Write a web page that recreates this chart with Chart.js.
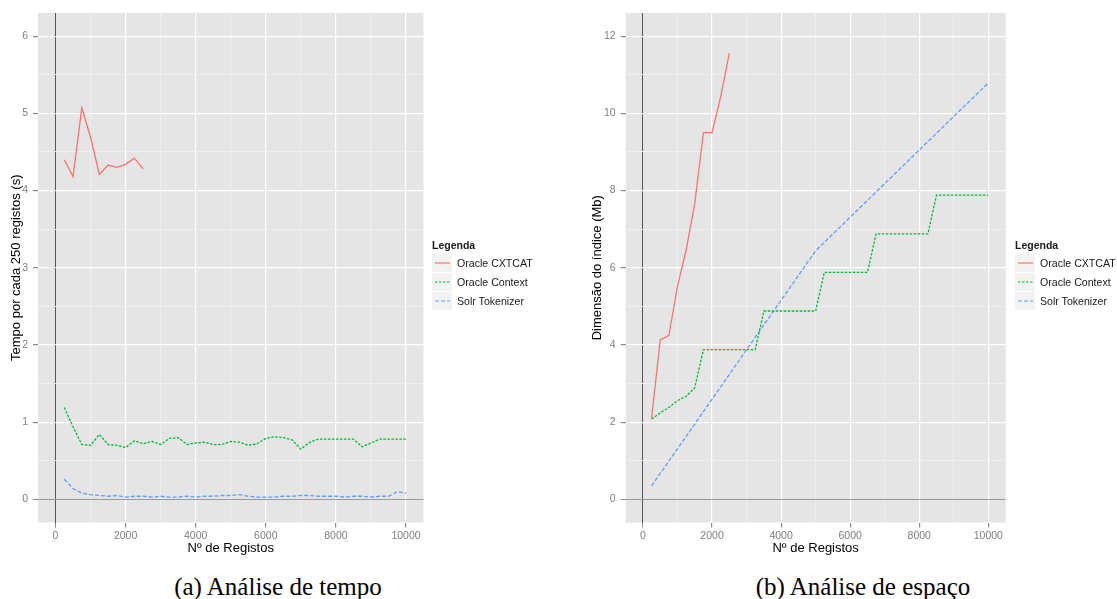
<!DOCTYPE html>
<html>
<head>
<meta charset="utf-8">
<script src="https://cdn.jsdelivr.net/npm/chart.js@4/dist/chart.umd.min.js"></script>
<style>
    body { margin: 0; background: #fff; }
    #wrap { position: relative; width: 1117px; height: 599px; overflow: hidden; }
    canvas { position: absolute; top: 0; }
    .legend { position: absolute; top: 237px; white-space: nowrap; font-family: "Liberation Sans", Arial, sans-serif; font-size: 10.6px; color: #1a1a1a; }
    .lg-title { font-weight: bold; font-size: 10.5px; line-height: 16px; }
    .lg-row { display: flex; align-items: center; height: 19px; }
    .lg-key { width: 20px; height: 18px; background: #F2F2F2; margin-right: 5px; flex: none; }
    .lg-key svg { display: block; }
    .caption { position: absolute; top: 574px; width: 400px; text-align: center; font-family: "Liberation Serif", "Times New Roman", serif; font-size: 25px; line-height: 25px; color: #000; }
</style>
</head>
<body>
<div id="wrap">
    <canvas id="chart-tempo" width="560" height="560" style="left:0"></canvas>
    <canvas id="chart-espaco" width="537" height="560" style="left:580px"></canvas>
    <div class="legend" id="legend-tempo" style="left:432px"></div>
    <div class="legend" id="legend-espaco" style="left:1015px"></div>
    <div class="caption" style="left:78px">(a) Análise de tempo</div>
    <div class="caption" style="left:663px">(b) Análise de espaço</div>
</div>
<script>
const COLORS = {
    cxtcat: '#F8766D',
    context: '#00BA38',
    solr: '#619CFF',
};
const LABELS = {
    cxtcat: 'Oracle CXTCAT',
    context: 'Oracle Context',
    solr: 'Solr Tokenizer',
};

const REGISTOS = [250, 500, 750, 1000, 1250, 1500, 1750, 2000, 2250, 2500,
    2750, 3000, 3250, 3500, 3750, 4000, 4250, 4500, 4750, 5000,
    5250, 5500, 5750, 6000, 6250, 6500, 6750, 7000, 7250, 7500,
    7750, 8000, 8250, 8500, 8750, 9000, 9250, 9500, 9750, 10000];
const REGISTOS_CXTCAT = [250, 500, 750, 1000, 1250, 1500, 1750, 2000, 2250, 2500];
const REGISTOS_SOLR_ESPACO = [250, 5000, 10000];

// (a) tempo por cada 250 registos (s)
const TEMPO_CXTCAT = [4.40, 4.18, 5.07, 4.69, 4.21, 4.33, 4.30, 4.34, 4.42, 4.28];
const TEMPO_CONTEXT = [1.19, 0.94, 0.71, 0.70, 0.84, 0.71, 0.70, 0.67, 0.76, 0.72,
    0.75, 0.71, 0.79, 0.80, 0.71, 0.73, 0.74, 0.71, 0.71, 0.75,
    0.74, 0.70, 0.72, 0.79, 0.81, 0.80, 0.77, 0.65, 0.74, 0.78,
    0.78, 0.78, 0.78, 0.78, 0.68, 0.73, 0.78, 0.78, 0.78, 0.78];
const TEMPO_SOLR = [0.26, 0.14, 0.08, 0.06, 0.05, 0.04, 0.05, 0.03, 0.04, 0.04,
    0.03, 0.04, 0.03, 0.03, 0.04, 0.03, 0.04, 0.04, 0.05, 0.05,
    0.06, 0.04, 0.03, 0.03, 0.03, 0.04, 0.04, 0.05, 0.05, 0.04,
    0.04, 0.04, 0.03, 0.04, 0.04, 0.03, 0.04, 0.04, 0.10, 0.08];

// (b) dimensao do indice (Mb)
const ESPACO_CXTCAT = [2.10, 4.13, 4.25, 5.52, 6.46, 7.67, 9.50, 9.50, 10.43, 11.56];
const ESPACO_CONTEXT = [2.08, 2.24, 2.38, 2.56, 2.67, 2.89, 3.88, 3.88, 3.88, 3.88,
    3.88, 3.88, 3.88, 4.88, 4.88, 4.88, 4.88, 4.88, 4.88, 4.88,
    5.88, 5.88, 5.88, 5.88, 5.88, 5.88, 6.88, 6.88, 6.88, 6.88,
    6.88, 6.88, 6.88, 7.88, 7.88, 7.88, 7.88, 7.88, 7.88, 7.88];
const ESPACO_SOLR = [0.35, 6.44, 10.79];

const X_MAJOR = [0, 2000, 4000, 6000, 8000, 10000];
const X_MINOR = [1000, 3000, 5000, 7000, 9000];
const Y_TEMPO_MAJOR = [0, 1, 2, 3, 4, 5, 6];
const Y_TEMPO_MINOR = [0.5, 1.5, 2.5, 3.5, 4.5, 5.5];
const Y_ESPACO_MAJOR = [0, 2, 4, 6, 8, 10, 12];
const Y_ESPACO_MINOR = [1, 3, 5, 7, 9, 11];

Chart.defaults.font.family = '"Liberation Sans", Arial, sans-serif';

const panelBg = {
    id: 'panelBg',
    beforeDraw(chart) {
        const { ctx, chartArea: a } = chart;
        ctx.save();
        ctx.fillStyle = '#E5E5E5';
        ctx.fillRect(a.left, a.top, a.right - a.left, a.bottom - a.top);
        ctx.restore();
    },
};

function points(xs, ys) {
    return xs.map((x, i) => ({ x, y: ys[i] }));
}

function series(key, xs, ys) {
    const dash = { cxtcat: [], context: [2.5, 1.5], solr: [4, 2] };
    return {
        label: LABELS[key],
        data: points(xs, ys),
        borderColor: COLORS[key],
        backgroundColor: 'transparent',
        borderWidth: 1.3,
        borderDash: dash[key],
        pointRadius: 0,
        tension: 0,
    };
}

function axis(major, minor, min, max, zeroColor, title, opts) {
    const all = [...major, ...minor].sort((a, b) => a - b);
    return {
        type: 'linear',
        min, max,
        afterBuildTicks: s => { s.ticks = all.map(v => ({ value: v })); },
        afterFit: s => { if (opts.width) s.width = opts.width; if (opts.height) s.height = opts.height; },
        ticks: {
            autoSkip: false,
            maxRotation: 0,
            color: '#7F7F7F',
            font: { size: 10.5 },
            padding: opts.tickPad,
            callback: v => major.includes(v) ? String(v) : '',
        },
        grid: {
            color: c => c.tick && c.tick.value === 0 ? zeroColor : (major.includes(c.tick && c.tick.value) ? '#FFFFFF' : '#EFEFEF'),
            lineWidth: c => c.tick && c.tick.value === 0 ? 1 : (major.includes(c.tick && c.tick.value) ? 1.2 : 1),
            tickColor: c => major.includes(c.tick && c.tick.value) ? '#8A8A8A' : 'rgba(0,0,0,0)',
            tickLength: 5,
            drawTicks: true,
        },
        border: { display: false },
        title: {
            display: true,
            text: title,
            color: '#000',
            font: { size: 13 },
            padding: opts.titlePad,
        },
    };
}

function makeChart(id, datasets, yAxis, padRight) {
    return new Chart(document.getElementById(id), {
        type: 'line',
        data: { datasets },
        options: {
            responsive: false,
            animation: false,
            layout: { padding: { left: 0, top: 13, right: padRight, bottom: 0 } },
            plugins: { legend: { display: false }, tooltip: { enabled: false } },
            scales: {
                x: axis(X_MAJOR, X_MINOR, -500, 10500, '#555555', 'Nº de Registos',
                    { height: 37.5, tickPad: 2, titlePad: { top: 0, bottom: 4 } }),
                y: yAxis,
            },
        },
        plugins: [panelBg],
    });
}

function buildLegend(chart, el) {
    el.innerHTML = '<div class="lg-title">Legenda</div>' + chart.data.datasets.map(ds => `
        <div class="lg-row">
            <span class="lg-key"><svg width="20" height="18"><line x1="3" y1="9" x2="18" y2="9" stroke="${ds.borderColor}" stroke-width="1.2" stroke-dasharray="${ds.borderDash.join(' ')}"/></svg></span>
            <span>${ds.label}</span>
        </div>`).join('');
}

const chartTempo = makeChart('chart-tempo', [
    series('cxtcat', REGISTOS_CXTCAT, TEMPO_CXTCAT),
    series('context', REGISTOS, TEMPO_CONTEXT),
    series('solr', REGISTOS, TEMPO_SOLR),
], axis(Y_TEMPO_MAJOR, Y_TEMPO_MINOR, -0.3, 6.3, '#9A9A9A', 'Tempo por cada 250 registos (s)',
    { width: 38, tickPad: 5, titlePad: { top: 9, bottom: 0 } }), 136.5);

const chartEspaco = makeChart('chart-espaco', [
    series('cxtcat', REGISTOS_CXTCAT, ESPACO_CXTCAT),
    series('context', REGISTOS, ESPACO_CONTEXT),
    series('solr', REGISTOS_SOLR_ESPACO, ESPACO_SOLR),
], axis(Y_ESPACO_MAJOR, Y_ESPACO_MINOR, -0.6, 12.6, '#9A9A9A', 'Dimensão do índice (Mb)',
    { width: 45.7, tickPad: 5, titlePad: { top: 10, bottom: 0 } }), 111.4);

buildLegend(chartTempo, document.getElementById('legend-tempo'));
buildLegend(chartEspaco, document.getElementById('legend-espaco'));
</script>
</body>
</html>
